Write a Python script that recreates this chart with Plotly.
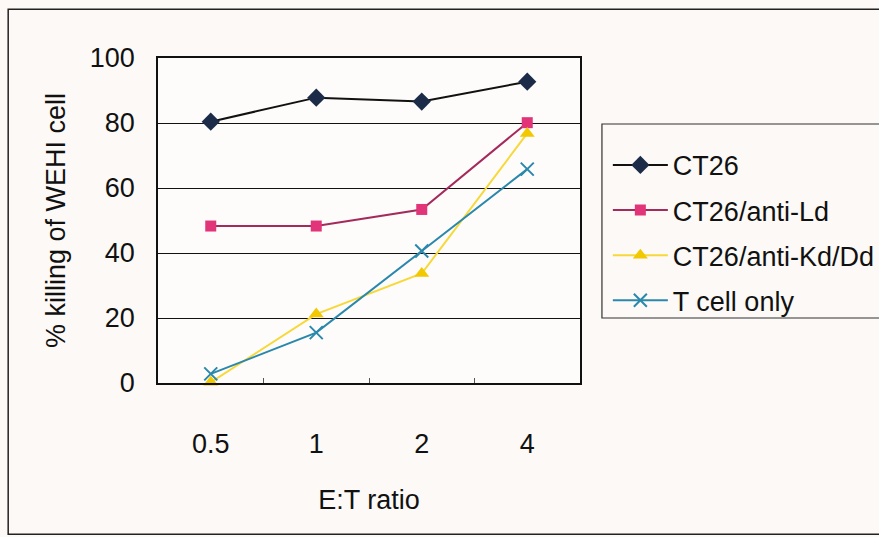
import plotly.graph_objects as go

categories = ["0.5", "1", "2", "4"]
ct26 = [80.4, 87.8, 86.6, 92.7]
ct26_anti_ld = [48.3, 48.3, 53.4, 80.1]
ct26_anti_kd_dd = [0.2, 21.2, 33.7, 76.8]
t_cell_only = [2.8, 15.5, 40.6, 65.8]
y_ticks = [0, 20, 40, 60, 80, 100]

FONT = "Liberation Sans, Arial, sans-serif"
BG = "#fcf9f6"
FS = 27

fig = go.Figure()

def add(name, y, line_color, marker):
    fig.add_trace(go.Scatter(
        x=categories, y=y, name=name, mode="lines+markers",
        line=dict(color=line_color, width=2),
        marker=marker, legendgroup=name, cliponaxis=False,
    ))

add("CT26", ct26, "#111111",
    dict(symbol="diamond", size=14, color="#1c2c48", line=dict(width=0)))
add("CT26/anti-Ld", ct26_anti_ld, "#a42a5c",
    dict(symbol="square", size=11, color="#e23478", line=dict(width=0)))
add("CT26/anti-Kd/Dd", ct26_anti_kd_dd, "#f7d83a",
    dict(symbol="triangle-up", size=13, color="#f2c800", line=dict(width=0)))
add("T cell only", t_cell_only, "#2a88ac",
    dict(symbol="x-thin-open", size=13, color="#2a88ac", line=dict(width=2, color="#2a88ac")))

fig.update_layout(
    width=879, height=537,
    margin=dict(l=158, r=299, t=58, b=154, autoexpand=False),
    paper_bgcolor=BG, plot_bgcolor="#fefcfa",
    font=dict(family=FONT, size=FS, color="#111111"),
    showlegend=True,
    legend=dict(
        x=1.066, y=0.745, xanchor="left", yanchor="top",
        bgcolor="rgba(0,0,0,0)", borderwidth=0,
        font=dict(family=FONT, size=FS, color="#111111"),
        itemwidth=55, tracegroupgap=7,
    ),
    xaxis=dict(
        type="category", categoryorder="array", categoryarray=categories,
        range=[-0.5, 3.5],
        showgrid=False, showline=True, linecolor="#111111", linewidth=1.5,
        mirror=True, ticks="inside", ticklen=5, tickcolor="#555555",
        tickson="boundaries", ticklabelstandoff=36,
        title=dict(text="E:T ratio", standoff=32, font=dict(size=FS)),
    ),
    yaxis=dict(
        range=[0, 100], tickvals=y_ticks, showgrid=True,
        gridcolor="#111111", gridwidth=1, showline=True,
        linecolor="#111111", linewidth=1.5, mirror=True, ticks="",
        ticklabelstandoff=16, zeroline=False,
        title=dict(text="% killing of WEHI cell", standoff=16, font=dict(size=FS)),
    ),
    shapes=[
        dict(type="rect", xref="paper", yref="paper",
             x0=-0.355, x1=1.8, y0=-0.465, y1=1.15,
             line=dict(color="#222222", width=1.5), layer="below"),
        dict(type="rect", xref="paper", yref="paper",
             x0=1.052, x1=1.735, y0=0.2, y1=0.797,
             line=dict(color="#333333", width=1.2), layer="below"),
    ],
)

fig.write_html("out.html")
